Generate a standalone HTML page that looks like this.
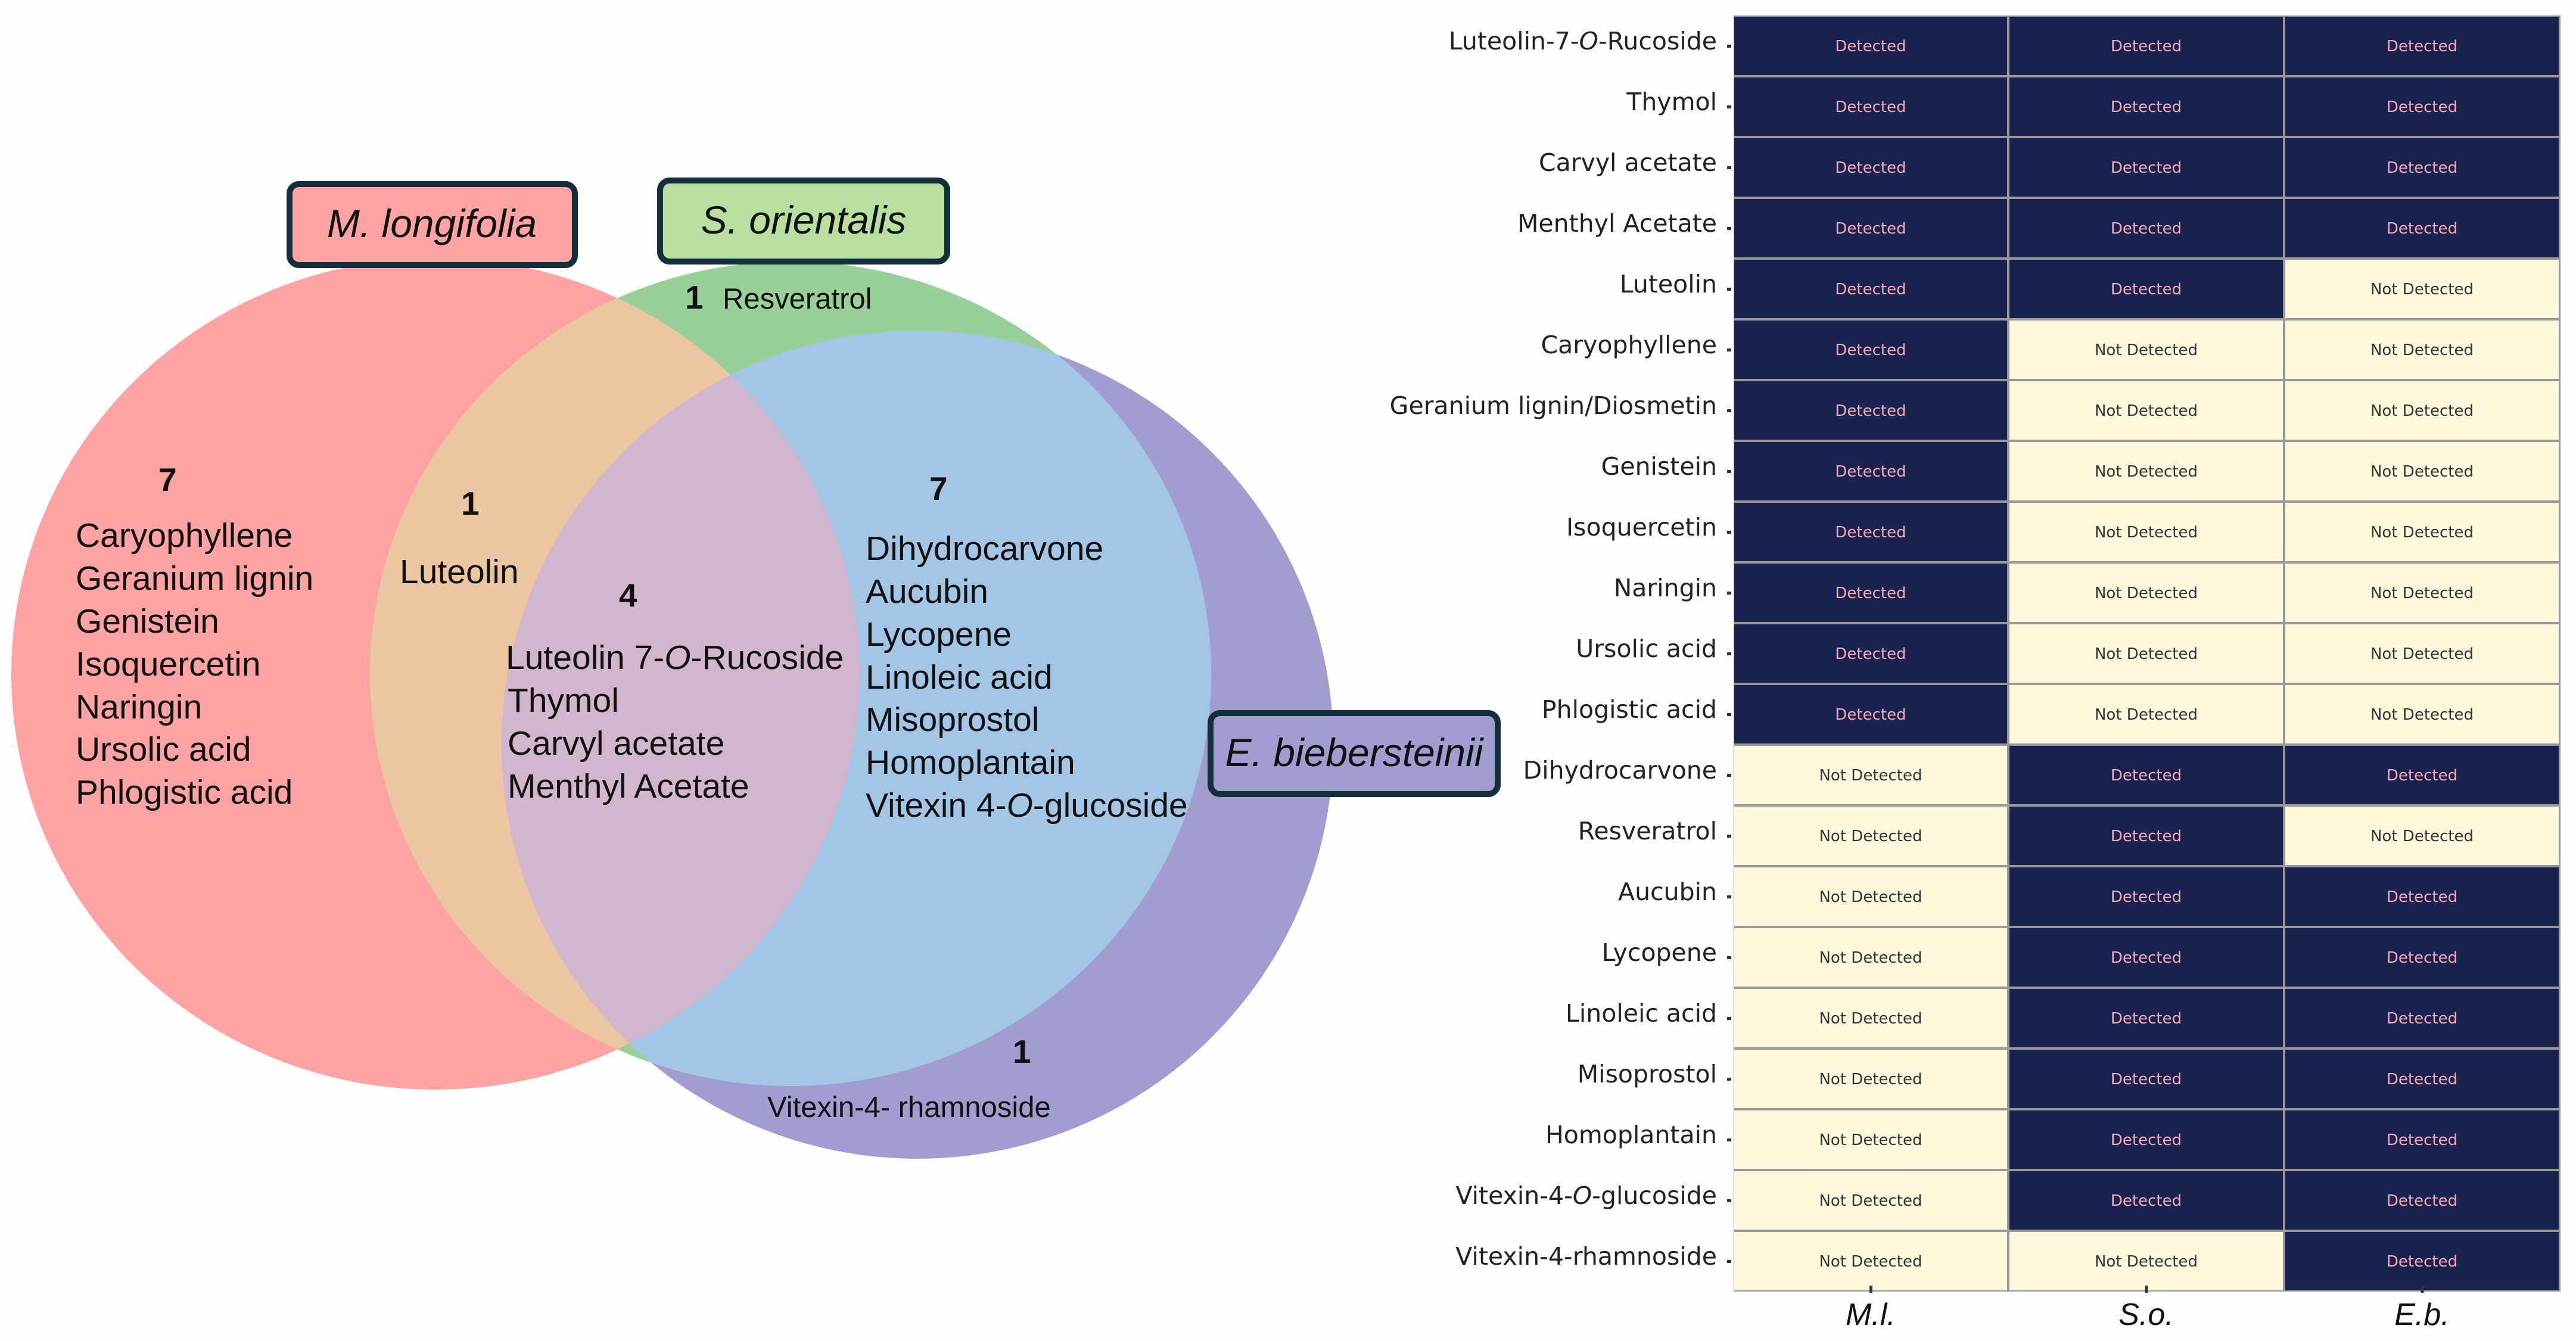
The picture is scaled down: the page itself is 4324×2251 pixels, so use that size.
<!DOCTYPE html>
<html><head><meta charset="utf-8"><style>
html,body{margin:0;padding:0;background:#fdfdfd;}
svg{display:block;}
.v{font-family:"Liberation Sans",sans-serif;font-size:57px;fill:#111;}
.n{font-family:"Liberation Sans",sans-serif;font-size:55px;font-weight:bold;fill:#111;}
.lb{font-family:"DejaVu Sans","Liberation Sans",sans-serif;font-size:41px;fill:#222;text-anchor:end;}
.c{font-family:"DejaVu Sans","Liberation Sans",sans-serif;font-size:26px;text-anchor:middle;}
.ax{font-family:"Liberation Sans",sans-serif;font-size:52px;font-style:italic;fill:#111;text-anchor:middle;}
</style></head><body>
<svg width="4324" height="2251" viewBox="0 0 4324 2251" xmlns="http://www.w3.org/2000/svg">
<defs>
<clipPath id="cr"><ellipse cx="731" cy="1131" rx="712" ry="698"/></clipPath>
<clipPath id="cg"><ellipse cx="1327" cy="1131" rx="706" ry="692"/></clipPath>
</defs>
<rect width="4324" height="2251" fill="#fdfdfd"/>
<ellipse cx="731" cy="1131" rx="712" ry="698" fill="#fea3a3"/>
<ellipse cx="1540" cy="1250" rx="698" ry="695" fill="#a29dd0"/>
<ellipse cx="1327" cy="1131" rx="706" ry="692" fill="#99cf98"/>
<ellipse cx="1327" cy="1131" rx="706" ry="692" fill="#ecc6a1" clip-path="url(#cr)"/>
<ellipse cx="1540" cy="1250" rx="698" ry="695" fill="#e9a2d6" clip-path="url(#cr)"/>
<ellipse cx="1540" cy="1250" rx="698" ry="695" fill="#a3c5e6" clip-path="url(#cg)"/>
<g clip-path="url(#cr)"><ellipse cx="1540" cy="1250" rx="698" ry="695" fill="#d1b6cd" clip-path="url(#cg)"/></g>

<rect x="486" y="309" width="479" height="136" rx="16" fill="#fea3a3" stroke="#13303a" stroke-width="10"/>
<text x="725" y="398" text-anchor="middle" style="font-family:'Liberation Sans',sans-serif;font-size:66px;font-style:italic;fill:#111">M. longifolia</text>
<rect x="1108" y="303" width="482" height="136" rx="16" fill="#b8dfa0" stroke="#13303a" stroke-width="10"/>
<text x="1349" y="392" text-anchor="middle" style="font-family:'Liberation Sans',sans-serif;font-size:66px;font-style:italic;fill:#111">S. orientalis</text>
<rect x="2032" y="1197" width="482" height="136" rx="16" fill="#a29dd0" stroke="#13303a" stroke-width="10"/>
<text x="2273" y="1286" text-anchor="middle" style="font-family:'Liberation Sans',sans-serif;font-size:66px;font-style:italic;fill:#111">E. biebersteinii</text>

<text class="n" x="266" y="824">7</text>
<text class="v" x="127" y="918">Caryophyllene</text>
<text class="v" x="127" y="990">Geranium lignin</text>
<text class="v" x="127" y="1062">Genistein</text>
<text class="v" x="127" y="1134">Isoquercetin</text>
<text class="v" x="127" y="1206">Naringin</text>
<text class="v" x="127" y="1277">Ursolic acid</text>
<text class="v" x="127" y="1349">Phlogistic acid</text>

<text class="n" x="774" y="864">1</text>
<text class="v" x="671" y="979">Luteolin</text>

<text class="n" x="1039" y="1018">4</text>
<text class="v" x="849" y="1123">Luteolin 7-<tspan font-style="italic">O</tspan>-Rucoside</text>
<text class="v" x="852" y="1195">Thymol</text>
<text class="v" x="852" y="1267">Carvyl acetate</text>
<text class="v" x="852" y="1339">Menthyl Acetate</text>

<text class="n" x="1560" y="839">7</text>
<text class="v" x="1453" y="940">Dihydrocarvone</text>
<text class="v" x="1453" y="1012">Aucubin</text>
<text class="v" x="1453" y="1084">Lycopene</text>
<text class="v" x="1453" y="1156">Linoleic acid</text>
<text class="v" x="1453" y="1227">Misoprostol</text>
<text class="v" x="1453" y="1299">Homoplantain</text>
<text class="v" x="1453" y="1371">Vitexin 4-<tspan font-style="italic">O</tspan>-glucoside</text>

<text class="n" x="1150" y="518">1</text>
<text class="v" x="1213" y="518" style="font-size:49px">Resveratrol</text>
<text class="n" x="1700" y="1784">1</text>
<text class="v" x="1288" y="1875" style="font-size:49px">Vitexin-4- rhamnoside</text>

<rect x="2910" y="26" width="1388" height="2142" fill="#999"/>
<g id="cells"></g>
</svg>
<script>
const rows=[["Luteolin-7-<tspan font-style='italic'>O</tspan>-Rucoside","111"],["Thymol","111"],["Carvyl acetate","111"],["Menthyl Acetate","111"],["Luteolin","110"],["Caryophyllene","100"],["Geranium lignin/Diosmetin","100"],["Genistein","100"],["Isoquercetin","100"],["Naringin","100"],["Ursolic acid","100"],["Phlogistic acid","100"],["Dihydrocarvone","011"],["Resveratrol","010"],["Aucubin","011"],["Lycopene","011"],["Linoleic acid","011"],["Misoprostol","011"],["Homoplantain","011"],["Vitexin-4-<tspan font-style='italic'>O</tspan>-glucoside","011"],["Vitexin-4-rhamnoside","001"]];
const xs=[2910,3372,3835],w=[460,461,461];
let s="";
rows.forEach((r,i)=>{const y=26+i*102;const cy=y+51;
s+=`<text class="lb" x="2882" y="${cy+6}">${r[0]}</text><rect x="2899" y="${cy-2}" width="7" height="5" fill="#333"/>`;
for(let j=0;j<3;j++){const d=r[1][j]==="1";
s+=`<rect x="${xs[j]+1}" y="${y+2}" width="${w[j]-2}" height="98" fill="${d?'#1a2350':'#fef8dc'}"/>`;
s+=`<text class="c" x="${xs[j]+w[j]/2}" y="${cy+9}" fill="${d?'#f2a9b6':'#333'}">${d?'Detected':'Not Detected'}</text>`;}
});
["M.l.","S.o.","E.b."].forEach((t,j)=>{const x=xs[j]+w[j]/2;s+=`<rect x="${x-2}" y="2158" width="5" height="12" fill="#333"/><text class="ax" x="${x}" y="2224">${t}</text>`;});
document.getElementById("cells").innerHTML=s;
</script>
</body></html>
